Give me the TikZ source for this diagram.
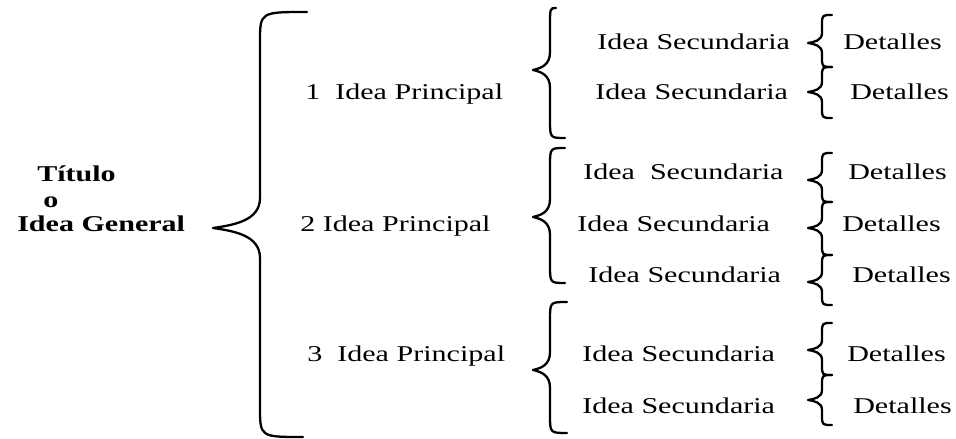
\documentclass[tikz,border=0pt]{standalone}
\usepackage{fontspec}
\setmainfont{Liberation Serif}
\usetikzlibrary{calc}

\newcommand{\curly}[5]{%
  \draw[bracestroke] let \p1=(#1), \p2=(#2), \p3=(#3), \p4=($(#2)+(#4,0)$),
      \p5=($(#2)+(0.45*#4,0.1*#5)$), \p6=($(#2)+(0.45*#4,-0.1*#5)$) in
    (\p1) .. controls (\x4,\y1) .. (\x4,\y1-#5) -- (\x4,\y2+#5)
    .. controls (\x4,\y2+0.25*#5) and (\p5) .. (\p2)
    .. controls (\p6) and (\x4,\y2-0.25*#5) .. (\x4,\y2-#5)
    -- (\x4,\y3+#5) .. controls (\x4,\y3) .. (\p3);}

\begin{document}
\begin{tikzpicture}[x=1pt,y=1pt,
    txt/.style={anchor=base west,inner sep=0pt,font=\fontsize{22.6}{27}\selectfont,xscale=1.33,transform shape},
    bracestroke/.style={line width=2.3pt,line cap=round,line join=round}]
    \useasboundingbox (0,0) rectangle (956,439);

    \node[txt,font=\fontsize{22.6}{27}\selectfont\bfseries] (tit) at (37,257) {Título};
    \node[txt,font=\fontsize{22.6}{27}\selectfont\bfseries] (o) at (43,231) {o};
    \node[txt,font=\fontsize{22.6}{27}\selectfont\bfseries] (gen) at (17,207) {Idea General};

    \node[txt] (p1) at (305,339) {1\ \ Idea Principal};
    \node[txt] (p2) at (300,207) {2 Idea Principal};
    \node[txt] (p3) at (307,77) {3\ \ Idea Principal};

    \node[txt] (s1) at (597,389) {Idea Secundaria};
    \node[txt] (s2) at (595,339) {Idea Secundaria};
    \node[txt] (s3) at (583,259) {Idea\ \ Secundaria};
    \node[txt] (s4) at (577,207) {Idea Secundaria};
    \node[txt] (s5) at (588,156) {Idea Secundaria};
    \node[txt] (s6) at (582,77) {Idea Secundaria};
    \node[txt] (s7) at (582,25) {Idea Secundaria};

    \node[txt] (d1) at (843,389) {Detalles};
    \node[txt] (d2) at (850,339) {Detalles};
    \node[txt] (d3) at (848,259) {Detalles};
    \node[txt] (d4) at (842,207) {Detalles};
    \node[txt] (d5) at (852,156) {Detalles};
    \node[txt] (d6) at (847,77) {Detalles};
    \node[txt] (d7) at (853,25) {Detalles};

    \coordinate (gtop) at (307,427);
    \coordinate (gtip) at (213,211);
    \coordinate (gbot) at (303,2);
    \coordinate (m1top) at (556,431);
    \coordinate (m1tip) at (533,369);
    \coordinate (m1bot) at (565,301);
    \coordinate (m2top) at (565,291);
    \coordinate (m2tip) at (533,222);
    \coordinate (m2bot) at (565,156);
    \coordinate (m3top) at (567,137);
    \coordinate (m3tip) at (533,69);
    \coordinate (m3bot) at (567,6);
    \coordinate (a0) at (832,424);
    \coordinate (a1) at (808,396);
    \coordinate (a2) at (832,372);
    \coordinate (a3) at (808,347);
    \coordinate (a4) at (832,321);
    \coordinate (b0) at (832,286);
    \coordinate (b1) at (808,259);
    \coordinate (b2) at (832,237);
    \coordinate (b3) at (808,211);
    \coordinate (b4) at (832,184);
    \coordinate (b5) at (808,157);
    \coordinate (b6) at (832,134);
    \coordinate (c0) at (832,116);
    \coordinate (c1) at (808,89);
    \coordinate (c2) at (832,64);
    \coordinate (c3) at (808,39);
    \coordinate (c4) at (832,14);

    \curly{gtop}{gtip}{gbot}{47}{30}
    \curly{m1top}{m1tip}{m1bot}{17}{18}
    \curly{m2top}{m2tip}{m2bot}{17}{18}
    \curly{m3top}{m3tip}{m3bot}{17}{18}
    \curly{a0}{a1}{a2}{14}{10}
    \curly{a2}{a3}{a4}{14}{10}
    \curly{b0}{b1}{b2}{14}{10}
    \curly{b2}{b3}{b4}{14}{10}
    \curly{b4}{b5}{b6}{14}{10}
    \curly{c0}{c1}{c2}{14}{10}
    \curly{c2}{c3}{c4}{14}{10}
\end{tikzpicture}
\end{document}
